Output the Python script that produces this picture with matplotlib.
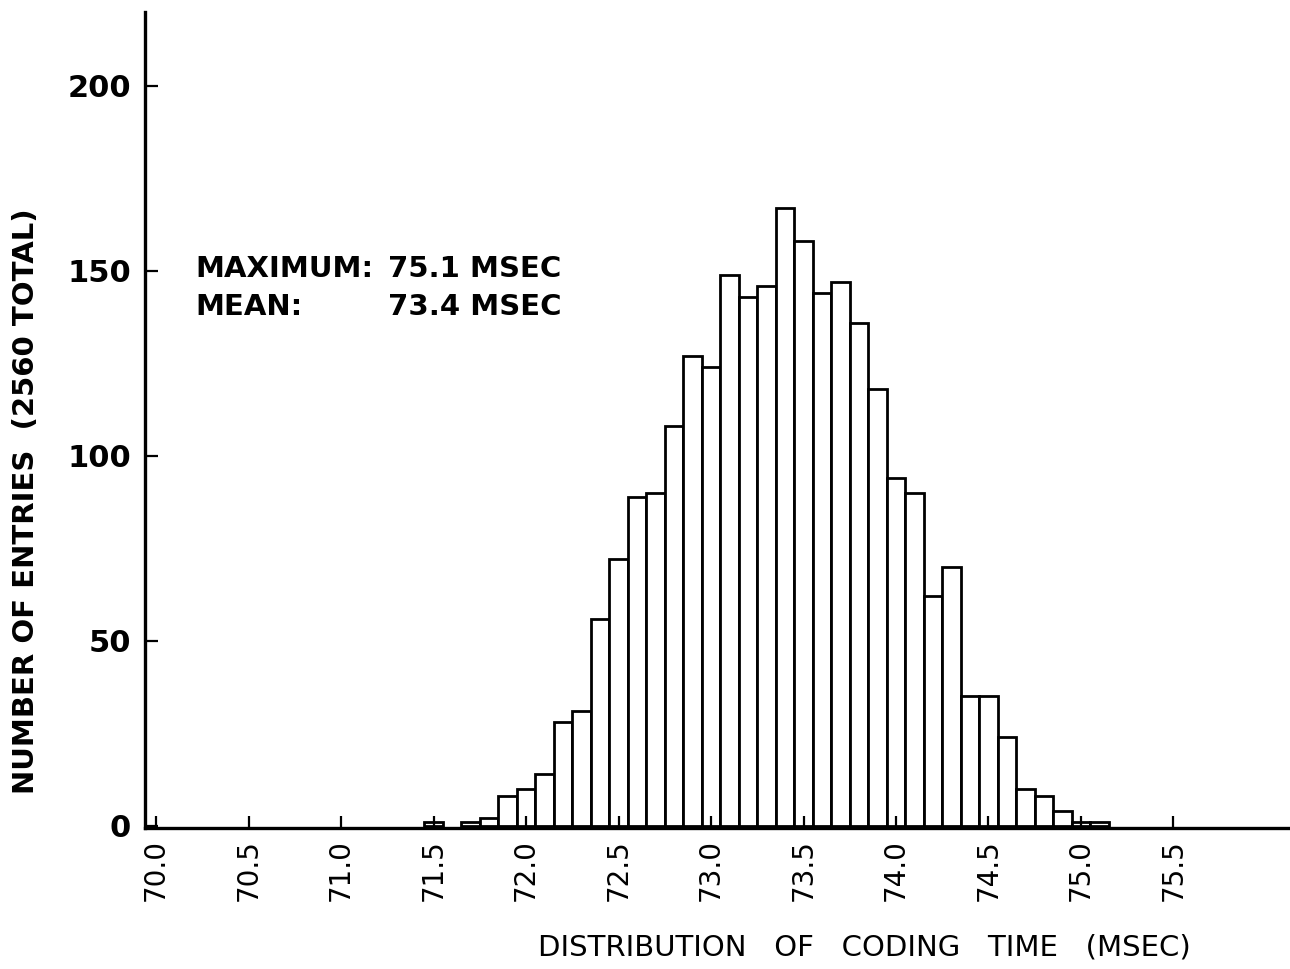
import matplotlib
matplotlib.use('Agg')
import matplotlib.pyplot as plt
import numpy as np

# histogram of coding time, bins of 0.1 msec (centers)
coding_time = [71.5, 71.7, 71.8, 71.9, 72.0, 72.1, 72.2, 72.3, 72.4, 72.5,
               72.6, 72.7, 72.8, 72.9, 73.0, 73.1, 73.2, 73.3, 73.4, 73.5,
               73.6, 73.7, 73.8, 73.9, 74.0, 74.1, 74.2, 74.3, 74.4, 74.5,
               74.6, 74.7, 74.8, 74.9, 75.0, 75.1]
entries = [1, 1, 2, 8, 10, 14, 28, 31, 56, 72,
           89, 90, 108, 127, 124, 149, 143, 146, 167, 158,
           144, 147, 136, 118, 94, 90, 62, 70, 35, 35,
           24, 10, 8, 4, 1, 1]

x_ticks = [70.0, 70.5, 71.0, 71.5, 72.0, 72.5, 73.0, 73.5, 74.0, 74.5, 75.0, 75.5]
x_tick_labels = ['70.0', '70.5', '71.0', '71.5', '72.0', '72.5',
                 '73.0', '73.5', '74.0', '74.5', '75.0', '75.5']
y_ticks = [0, 50, 100, 150, 200]
y_tick_labels = ['0', '50', '100', '150', '200']

plt.rcParams['font.family'] = ['DejaVu Sans']

fig = plt.figure(figsize=(12.9, 9.69), dpi=100)
ax = fig.add_axes([0.1124, 0.1455, 0.8876, 0.8421])

ax.bar(coding_time, entries, width=0.1, facecolor='white',
       edgecolor='black', linewidth=2.0)

ax.set_xlim(69.94, 76.13)
ax.set_ylim(-0.6, 220)

for side in ['top', 'right']:
    ax.spines[side].set_visible(False)
for side in ['left', 'bottom']:
    ax.spines[side].set_linewidth(2.4)

ax.set_xticks(x_ticks)
ax.set_xticklabels(x_tick_labels, rotation=90, fontsize=20)
ax.set_yticks(y_ticks)
ax.set_yticklabels(y_tick_labels, fontsize=22, fontweight='bold')
ax.tick_params(axis='both', direction='in', length=9, width=1.6)
ax.tick_params(axis='x', pad=8)
ax.tick_params(axis='y', pad=10)

ax.set_ylabel('NUMBER OF ENTRIES  (2560 TOTAL)', fontsize=21,
              fontweight='bold')
ax.yaxis.set_label_coords(-0.092, 0.40)
ax.set_xlabel('DISTRIBUTION   OF   CODING   TIME   (MSEC)', fontsize=21)
ax.xaxis.set_label_coords(0.628, -0.129)

txt = dict(transform=ax.transAxes, fontsize=21, fontweight='bold',
           va='center')
ax.text(0.044, 0.685, 'MAXIMUM:', **txt)
ax.text(0.212, 0.685, '75.1 MSEC', **txt)
ax.text(0.044, 0.638, 'MEAN:', **txt)
ax.text(0.212, 0.638, '73.4 MSEC', **txt)

fig.savefig('out.png', dpi=100)
